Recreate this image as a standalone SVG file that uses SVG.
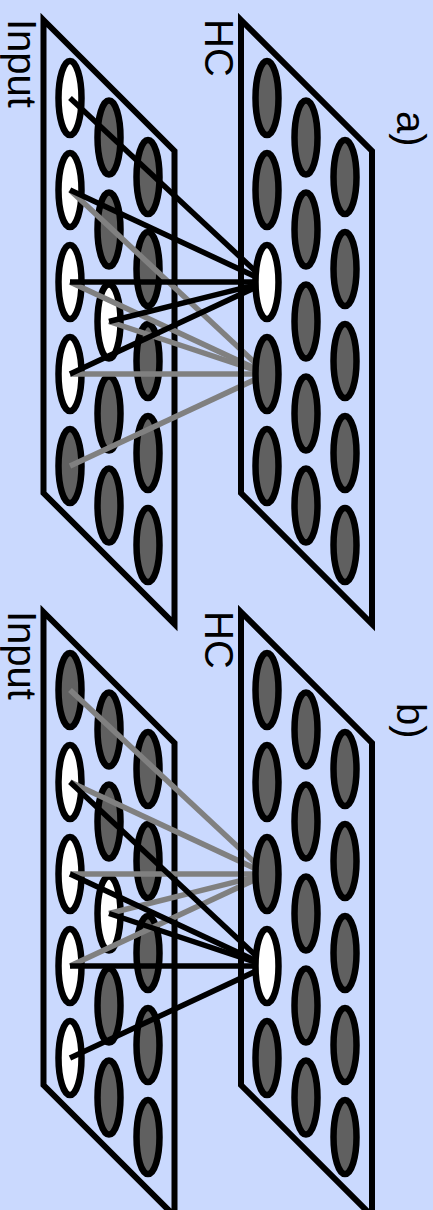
<svg xmlns="http://www.w3.org/2000/svg" width="433" height="1210" viewBox="0 0 433 1210">
<style>
.bg{fill:#cad9fe}
.plane{fill:none;stroke:#000;stroke-width:6;stroke-linejoin:miter;stroke-miterlimit:10}
ellipse{stroke:#000;stroke-width:6.5}
.w{fill:#fff}
.d{fill:#606060}
.g{stroke:#808080;stroke-width:5.5;fill:none}
.k{stroke:#000;stroke-width:5.5;fill:none}
text{font-family:"Liberation Sans",Arial,sans-serif;font-size:40px;fill:#000}
</style>
<rect class="bg" x="0" y="0" width="433" height="1210"/>

<!-- Panel a -->
<g id="a-input">
<polygon class="plane" points="43.5,20 174.5,151 174.5,624 43.5,493"/>
<ellipse class="w" cx="70" cy="98" rx="11.5" ry="37"/>
<ellipse class="w" cx="70" cy="190" rx="11.5" ry="37"/>
<ellipse class="w" cx="70" cy="282" rx="11.5" ry="37"/>
<ellipse class="w" cx="70" cy="374" rx="11.5" ry="37"/>
<ellipse class="d" cx="70" cy="466" rx="11.5" ry="37"/>
<ellipse class="d" cx="109" cy="137.5" rx="11.5" ry="37"/>
<ellipse class="d" cx="109" cy="229.5" rx="11.5" ry="37"/>
<ellipse class="w" cx="109" cy="321.5" rx="11.5" ry="37"/>
<ellipse class="d" cx="109" cy="413.5" rx="11.5" ry="37"/>
<ellipse class="d" cx="109" cy="505.5" rx="11.5" ry="37"/>
<ellipse class="d" cx="148" cy="177" rx="11.5" ry="37"/>
<ellipse class="d" cx="148" cy="269" rx="11.5" ry="37"/>
<ellipse class="d" cx="148" cy="361" rx="11.5" ry="37"/>
<ellipse class="d" cx="148" cy="453" rx="11.5" ry="37"/>
<ellipse class="d" cx="148" cy="545" rx="11.5" ry="37"/>
</g>
<g id="a-connectors">
<line class="g" x1="70" y1="190" x2="267" y2="374"/>
<line class="g" x1="70" y1="282" x2="267" y2="374"/>
<line class="g" x1="109" y1="321.5" x2="267" y2="374"/>
<line class="g" x1="70" y1="374" x2="267" y2="374"/>
<line class="g" x1="70" y1="466" x2="267" y2="374"/>
<line class="k" x1="70" y1="98" x2="267" y2="282"/>
<line class="k" x1="70" y1="190" x2="267" y2="282"/>
<line class="k" x1="70" y1="282" x2="267" y2="282"/>
<line class="k" x1="109" y1="321.5" x2="267" y2="282"/>
<line class="k" x1="70" y1="374" x2="267" y2="282"/>
</g>
<g id="a-hc">
<polygon class="plane" points="241,20 372,151 372,624 241,493"/>
<ellipse class="d" cx="267" cy="98" rx="11.5" ry="37"/>
<ellipse class="d" cx="267" cy="190" rx="11.5" ry="37"/>
<ellipse class="w" cx="267" cy="282" rx="11.5" ry="37"/>
<ellipse class="d" cx="267" cy="374" rx="11.5" ry="37"/>
<ellipse class="d" cx="267" cy="466" rx="11.5" ry="37"/>
<ellipse class="d" cx="306" cy="137.5" rx="11.5" ry="37"/>
<ellipse class="d" cx="306" cy="229.5" rx="11.5" ry="37"/>
<ellipse class="d" cx="306" cy="321.5" rx="11.5" ry="37"/>
<ellipse class="d" cx="306" cy="413.5" rx="11.5" ry="37"/>
<ellipse class="d" cx="306" cy="505.5" rx="11.5" ry="37"/>
<ellipse class="d" cx="345" cy="177" rx="11.5" ry="37"/>
<ellipse class="d" cx="345" cy="269" rx="11.5" ry="37"/>
<ellipse class="d" cx="345" cy="361" rx="11.5" ry="37"/>
<ellipse class="d" cx="345" cy="453" rx="11.5" ry="37"/>
<ellipse class="d" cx="345" cy="545" rx="11.5" ry="37"/>
</g>
<g id="a-labels">
<text transform="translate(8,19) rotate(90)">Input</text>
<text transform="translate(205,19) rotate(90)">HC</text>
<text transform="translate(397,111) rotate(90)">a)</text>
</g>

<!-- Panel b -->
<g id="b-input">
<polygon class="plane" points="43.5,612 174.5,743 174.5,1216 43.5,1085"/>
<ellipse class="d" cx="70" cy="690" rx="11.5" ry="37"/>
<ellipse class="w" cx="70" cy="782" rx="11.5" ry="37"/>
<ellipse class="w" cx="70" cy="874" rx="11.5" ry="37"/>
<ellipse class="w" cx="70" cy="966" rx="11.5" ry="37"/>
<ellipse class="w" cx="70" cy="1058" rx="11.5" ry="37"/>
<ellipse class="d" cx="109" cy="729.5" rx="11.5" ry="37"/>
<ellipse class="d" cx="109" cy="821.5" rx="11.5" ry="37"/>
<ellipse class="w" cx="109" cy="913.5" rx="11.5" ry="37"/>
<ellipse class="d" cx="109" cy="1005.5" rx="11.5" ry="37"/>
<ellipse class="d" cx="109" cy="1097.5" rx="11.5" ry="37"/>
<ellipse class="d" cx="148" cy="769" rx="11.5" ry="37"/>
<ellipse class="d" cx="148" cy="861" rx="11.5" ry="37"/>
<ellipse class="d" cx="148" cy="953" rx="11.5" ry="37"/>
<ellipse class="d" cx="148" cy="1045" rx="11.5" ry="37"/>
<ellipse class="d" cx="148" cy="1137" rx="11.5" ry="37"/>
</g>
<g id="b-connectors">
<line class="g" x1="70" y1="690" x2="267" y2="874"/>
<line class="g" x1="70" y1="782" x2="267" y2="874"/>
<line class="g" x1="70" y1="874" x2="267" y2="874"/>
<line class="g" x1="109" y1="913.5" x2="267" y2="874"/>
<line class="g" x1="70" y1="966" x2="267" y2="874"/>
<line class="k" x1="70" y1="782" x2="267" y2="966"/>
<line class="k" x1="70" y1="874" x2="267" y2="966"/>
<line class="k" x1="109" y1="913.5" x2="267" y2="966"/>
<line class="k" x1="70" y1="966" x2="267" y2="966"/>
<line class="k" x1="70" y1="1058" x2="267" y2="966"/>
</g>
<g id="b-hc">
<polygon class="plane" points="241,612 372,743 372,1216 241,1085"/>
<ellipse class="d" cx="267" cy="690" rx="11.5" ry="37"/>
<ellipse class="d" cx="267" cy="782" rx="11.5" ry="37"/>
<ellipse class="d" cx="267" cy="874" rx="11.5" ry="37"/>
<ellipse class="w" cx="267" cy="966" rx="11.5" ry="37"/>
<ellipse class="d" cx="267" cy="1058" rx="11.5" ry="37"/>
<ellipse class="d" cx="306" cy="729.5" rx="11.5" ry="37"/>
<ellipse class="d" cx="306" cy="821.5" rx="11.5" ry="37"/>
<ellipse class="d" cx="306" cy="913.5" rx="11.5" ry="37"/>
<ellipse class="d" cx="306" cy="1005.5" rx="11.5" ry="37"/>
<ellipse class="d" cx="306" cy="1097.5" rx="11.5" ry="37"/>
<ellipse class="d" cx="345" cy="769" rx="11.5" ry="37"/>
<ellipse class="d" cx="345" cy="861" rx="11.5" ry="37"/>
<ellipse class="d" cx="345" cy="953" rx="11.5" ry="37"/>
<ellipse class="d" cx="345" cy="1045" rx="11.5" ry="37"/>
<ellipse class="d" cx="345" cy="1137" rx="11.5" ry="37"/>
</g>
<g id="b-labels">
<text transform="translate(8,611) rotate(90)">Input</text>
<text transform="translate(205,611) rotate(90)">HC</text>
<text transform="translate(397,703) rotate(90)">b)</text>
</g>
</svg>
